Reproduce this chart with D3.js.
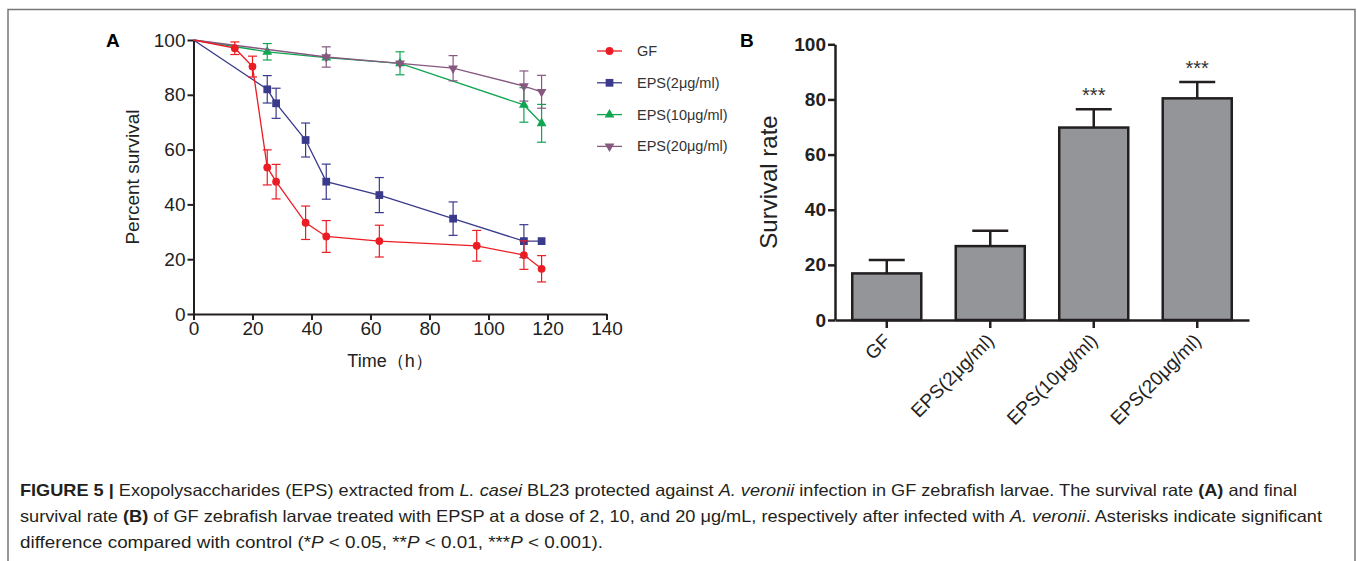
<!DOCTYPE html>
<html><head><meta charset="utf-8">
<script src="https://cdn.jsdelivr.net/npm/d3@7"></script>
<style>
html,body{margin:0;padding:0;background:#fff;}
svg{display:block;font-family:"Liberation Sans",Arial,sans-serif;}
</style></head>
<body>
<svg id="chart" width="1357" height="561"></svg>
<script>
// ---------- Data: panel A (survival curves) ----------
const seriesNames = ["GF","EPS(2μg/ml)","EPS(10μg/ml)","EPS(20μg/ml)"];
const timesGF   = [0,14,20,25,28,38,45,63,96,112,118];
const valuesGF  = [100,97,90.3,53.5,48.3,33.3,28.3,26.6,24.9,21.5,16.5];
const errGF     = [0,2.3,3.8,6.4,6.3,6.1,5.8,5.8,5.6,5.2,4.8];
const timesE2   = [0,25,28,38,45,63,88,112,118];
const valuesE2  = [100,82,76.9,63.5,48.3,43.4,34.8,26.6,26.6];
const errE2     = [0,5,5.5,6.2,6.4,6.4,6.1,6,0];
const timesE10  = [0,25,45,70,112,118];
const valuesE10 = [100,95.7,93.6,91.5,76.3,69.6];
const errE10    = [0,3,0,4.2,6.3,6.9];
const timesE20  = [0,45,70,88,112,118];
const valuesE20 = [100,93.8,91.5,89.7,83.2,81.1];
const errE20    = [0,3.7,0,4.6,5.5,6];
const timeTicks = [0,20,40,60,80,100,120,140];
const pctTicks  = [0,20,40,60,80,100];

// ---------- Data: panel B (final survival) ----------
const barCats   = ["GF","EPS(2μg/ml)","EPS(10μg/ml)","EPS(20μg/ml)"];
const barValues = [16.9,26.8,69.8,80.4];
const barErrors = [4.9,5.6,6.6,5.9];
const barSig    = ["","","***","***"];
const rateTicks = [0,20,40,60,80,100];

const colors  = ["#ec1c24","#3a3a8c","#10a651","#86587f"];
const symbols = [d3.symbolCircle, d3.symbolSquare, d3.symbolTriangle, "down"];

const svg = d3.select("#chart");
const ink = "#231f20";

// frame
svg.append("rect").attr("x",8).attr("y",9.5).attr("width",1347).attr("height",600)
  .attr("fill","none").attr("stroke","#777").attr("stroke-width",1.5);

// ================= Panel A =================
const xA = d3.scaleLinear().domain([0,140]).range([193.5,606.5]);
const yA = d3.scaleLinear().domain([0,100]).range([314,40]);
const gA = svg.append("g");

const axA_y = gA.append("g").attr("transform",`translate(${xA(0)},0)`)
  .call(d3.axisLeft(yA).tickValues(pctTicks).tickSize(6).tickPadding(2).tickSizeOuter(0));
const axA_x = gA.append("g").attr("transform",`translate(0,${yA(0)})`)
  .call(d3.axisBottom(xA).tickValues(timeTicks).tickSize(6).tickPadding(2).tickSizeOuter(0));
[axA_y,axA_x].forEach(a=>{
  a.select(".domain").attr("stroke",ink).attr("stroke-width",2);
  a.selectAll(".tick line").attr("stroke",ink).attr("stroke-width",2);
  a.selectAll(".tick text").attr("fill","#222").attr("font-size",19).attr("font-family","Liberation Sans, Arial, sans-serif");
});

gA.append("text").attr("transform","translate(139,177) rotate(-90)")
  .attr("text-anchor","middle").attr("font-size",19).attr("fill","#222").text("Percent survival");
gA.append("text").attr("x",390).attr("y",367).attr("text-anchor","middle")
  .attr("font-size",18).attr("fill","#222").text("Time（h）");
svg.append("text").attr("x",106).attr("y",47).attr("font-size",19).attr("font-weight","bold").text("A");

function symPath(s, size){
  if(s==="down") return d3.symbol().type(d3.symbolTriangle).size(size)();
  return d3.symbol().type(s).size(size)();
}
function symTransform(s,x,y){
  return s==="down" ? `translate(${x},${y}) rotate(180)` : `translate(${x},${y})`;
}
const sizes = [48,60,42,42];

const seriesData = [
  [timesGF,valuesGF,errGF],
  [timesE2,valuesE2,errE2],
  [timesE10,valuesE10,errE10],
  [timesE20,valuesE20,errE20]
];
const line = d3.line().x(d=>xA(d.t)).y(d=>yA(d.v));
[2,3,1,0].forEach(i=>{
  const [ts,vs,es] = seriesData[i];
  const pts = ts.map((t,k)=>({t,v:vs[k],e:es[k]}));
  const g = gA.append("g");
  g.append("path").datum(pts).attr("d",line).attr("fill","none")
    .attr("stroke",colors[i]).attr("stroke-width",1.3);
  const eb = g.selectAll(".eb").data(pts.filter(p=>p.e>0)).enter().append("g");
  eb.append("line").attr("x1",d=>xA(d.t)).attr("x2",d=>xA(d.t))
    .attr("y1",d=>yA(d.v+d.e)).attr("y2",d=>yA(d.v-d.e))
    .attr("stroke",colors[i]).attr("stroke-width",1.2);
  [1,-1].forEach(sg=>{
    eb.append("line").attr("x1",d=>xA(d.t)-4.5).attr("x2",d=>xA(d.t)+4.5)
      .attr("y1",d=>yA(d.v+sg*d.e)).attr("y2",d=>yA(d.v+sg*d.e))
      .attr("stroke",colors[i]).attr("stroke-width",1.2);
  });
  g.selectAll(".pt").data(pts.filter(p=>p.t>0)).enter().append("path")
    .attr("d",symPath(symbols[i],sizes[i]))
    .attr("transform",d=>symTransform(symbols[i],xA(d.t),yA(d.v)))
    .attr("fill",colors[i]);
});

// legend
const lg = gA.append("g");
seriesNames.forEach((n,i)=>{
  const y = 51 + i*31.8;
  lg.append("line").attr("x1",597).attr("x2",622).attr("y1",y).attr("y2",y)
    .attr("stroke",colors[i]).attr("stroke-width",1.3);
  lg.append("path").attr("d",symPath(symbols[i],sizes[i]))
    .attr("transform",symTransform(symbols[i],609.5,y)).attr("fill",colors[i]);
  lg.append("text").attr("x",637).attr("y",y+5).attr("font-size",14.5).attr("fill","#333").text(n);
});

// ================= Panel B =================
const xB = d3.scaleBand().domain(barCats).range([835,1249]).paddingInner(0.333).paddingOuter(0.1667);
const yB = d3.scaleLinear().domain([0,100]).range([320,44.3]);
const gB = svg.append("g");
svg.append("text").attr("x",740).attr("y",47).attr("font-size",19).attr("font-weight","bold").text("B");

gB.selectAll(".bar").data(barCats).enter().append("rect")
  .attr("x",d=>xB(d)).attr("width",xB.bandwidth())
  .attr("y",(d,i)=>yB(barValues[i])).attr("height",(d,i)=>yB(0)-yB(barValues[i]))
  .attr("fill","#939598").attr("stroke",ink).attr("stroke-width",2.5);
barCats.forEach((c,i)=>{
  const cx = xB(c)+xB.bandwidth()/2;
  gB.append("line").attr("x1",cx).attr("x2",cx).attr("y1",yB(barValues[i])).attr("y2",yB(barValues[i]+barErrors[i]))
    .attr("stroke",ink).attr("stroke-width",2.5);
  gB.append("line").attr("x1",cx-18).attr("x2",cx+18).attr("y1",yB(barValues[i]+barErrors[i])).attr("y2",yB(barValues[i]+barErrors[i]))
    .attr("stroke",ink).attr("stroke-width",2.5);
  if(barSig[i]) gB.append("text").attr("x",cx).attr("y",yB(barValues[i]+barErrors[i])-7)
    .attr("text-anchor","middle").attr("font-size",20).attr("fill","#333").text(barSig[i]);
});

const axB_y = gB.append("g").attr("transform",`translate(835,0)`)
  .call(d3.axisLeft(yB).tickValues(rateTicks).tickSize(7).tickPadding(2).tickSizeOuter(0));
const axB_x = gB.append("g").attr("transform",`translate(0,${yB(0)})`)
  .call(d3.axisBottom(xB).tickSize(8).tickSizeOuter(0).tickFormat(""));
[axB_y,axB_x].forEach(a=>{
  a.select(".domain").attr("stroke",ink).attr("stroke-width",2.5);
  a.selectAll(".tick line").attr("stroke",ink).attr("stroke-width",2.5);
});
axB_y.selectAll(".tick text").attr("fill","#222").attr("font-size",19).attr("font-weight","bold")
  .attr("font-family","Liberation Sans, Arial, sans-serif");
axB_x.selectAll(".tick").append("text")
  .attr("transform","translate(5,22) rotate(-45)")
  .attr("text-anchor","end").attr("fill","#222").attr("font-size",19)
  .attr("font-family","Liberation Sans, Arial, sans-serif").text(d=>d);

gB.append("text").attr("transform","translate(777,182) rotate(-90)")
  .attr("text-anchor","middle").attr("font-size",24).attr("fill","#222").text("Survival rate");

// ================= Caption =================
const cap = svg.append("g").attr("font-size",16.5).attr("fill","#231f20")
  .attr("font-family","Liberation Sans Narrow, Liberation Sans, Arial, sans-serif");
const lines = [
  {y:496, len:1277, parts:[["FIGURE 5 |","b"],[" Exopolysaccharides (EPS) extracted from ",""],["L. casei","i"],[" BL23 protected against ",""],["A. veronii","i"],[" infection in GF zebrafish larvae. The survival rate ",""],["(A)","b"],[" and final",""]]},
  {y:522, len:1302, parts:[["survival rate ",""],["(B)","b"],[" of GF zebrafish larvae treated with EPSP at a dose of 2, 10, and 20 μg/mL, respectively after infected with ",""],["A. veronii","i"],[". Asterisks indicate significant",""]]},
  {y:548, len:583, parts:[["difference compared with control (*",""],["P","i"],[" < 0.05, **",""],["P","i"],[" < 0.01, ***",""],["P","i"],[" < 0.001).",""]]}
];
lines.forEach(l=>{
  const t = cap.append("text").attr("x",20).attr("y",l.y)
    .attr("textLength",l.len).attr("lengthAdjust","spacingAndGlyphs");
  l.parts.forEach(p=>{
    const s = t.append("tspan").text(p[0]);
    if(p[1]==="b") s.attr("font-weight","bold");
    if(p[1]==="i") s.attr("font-style","italic");
  });
});
</script>
</body></html>
